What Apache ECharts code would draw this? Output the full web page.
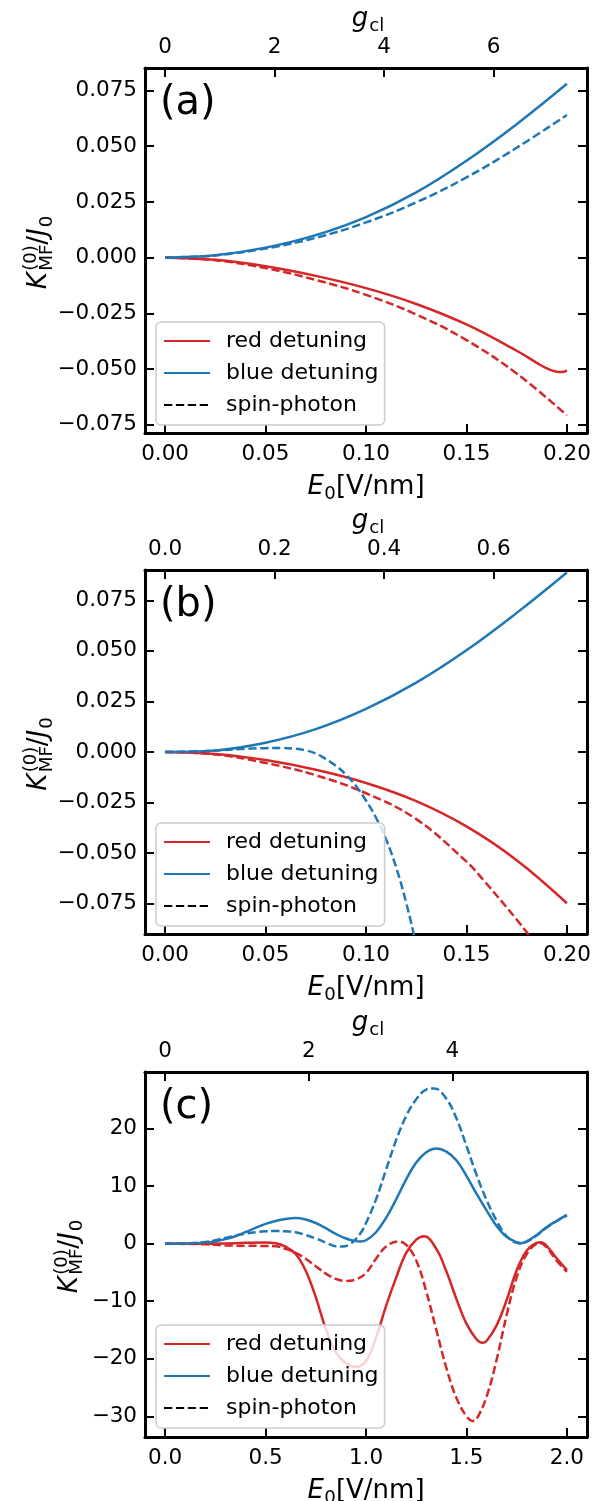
<!DOCTYPE html>
<html><head><meta charset="utf-8">
<script src="https://cdn.jsdelivr.net/npm/echarts@6/dist/echarts.min.js"></script>
<style>html,body{margin:0;padding:0;background:#fff}#c{width:596px;height:1501px}</style>
</head><body><div id="c"></div>
<script>
// ---------------- data ----------------
// panel (a)
const aE      = [0, 0.025, 0.05, 0.075, 0.1, 0.125, 0.15, 0.175, 0.2];
const aBlue   = [0, 0.0011, 0.0045, 0.0101, 0.0182, 0.0293, 0.0435, 0.0599, 0.078];
const aBlueSP = [0, 0.001, 0.0041, 0.0089, 0.0158, 0.0248, 0.036, 0.0493, 0.064];
const aRedE   = [0, 0.025, 0.05, 0.075, 0.1, 0.125, 0.15, 0.175, 0.185, 0.19, 0.195, 0.198, 0.2];
const aRed    = [0, -0.001, -0.0039, -0.0082, -0.0137, -0.0208, -0.030, -0.0418, -0.0472, -0.0497, -0.0512, -0.0513, -0.0506];
const aRedSP  = [0, -0.0012, -0.0047, -0.0100, -0.0167, -0.0255, -0.037, -0.052, -0.0708];
// panel (b)
const bE       = [0, 0.025, 0.05, 0.075, 0.1, 0.125, 0.15, 0.175, 0.2];
const bBlue    = [0, 0.0008, 0.0046, 0.0113, 0.0213, 0.0343, 0.0503, 0.0688, 0.0888];
const bRed     = [0, -0.001, -0.004, -0.0088, -0.0153, -0.0243, -0.0368, -0.0535, -0.0748];
const bRedSPE  = [0, 0.025, 0.05, 0.075, 0.1, 0.125, 0.15, 0.158, 0.175, 0.1807, 0.19];
const bRedSP   = [0, -0.0012, -0.0054, -0.0115, -0.0204, -0.0332, -0.0542, -0.0628, -0.0828, -0.0899, -0.1];
const bBlueSPE = [0, 0.02, 0.04, 0.05, 0.058, 0.065, 0.07, 0.075, 0.08, 0.085, 0.09, 0.095, 0.1, 0.105, 0.11, 0.115, 0.12, 0.125, 0.127];
const bBlueSP  = [0, 0.0005, 0.0016, 0.0019, 0.002, 0.0016, 0.0008, -0.0007, -0.0035, -0.0068, -0.0112, -0.0168, -0.024, -0.0325, -0.0432, -0.057, -0.0745, -0.0955, -0.105];
// panel (c)
const cBlueE   = [0, 0.1, 0.2, 0.25, 0.3, 0.35, 0.4, 0.45, 0.5, 0.55, 0.6, 0.65, 0.7, 0.75, 0.8, 0.85, 0.9, 0.95, 0.97, 1.0, 1.05, 1.1, 1.15, 1.2, 1.25, 1.3, 1.35, 1.4, 1.45, 1.5, 1.55, 1.6, 1.65, 1.7, 1.75, 1.775, 1.8, 1.85, 1.9, 1.95, 2.0];
const cBlue    = [0, 0.02, 0.15, 0.4, 0.8, 1.3, 2.0, 2.75, 3.45, 3.95, 4.3, 4.45, 4.2, 3.6, 2.7, 1.7, 0.9, 0.45, 0.4, 0.6, 2.0, 4.5, 7.7, 11.2, 14.1, 15.9, 16.55, 16.0, 14.5, 11.8, 8.7, 5.8, 3.1, 1.2, 0.25, 0.1, 0.4, 1.5, 2.9, 4.0, 5.0];
const cBlueSPE = [0, 0.1, 0.2, 0.25, 0.3, 0.35, 0.4, 0.45, 0.5, 0.55, 0.6, 0.65, 0.7, 0.75, 0.8, 0.85, 0.88, 0.92, 0.97, 1.0, 1.05, 1.1, 1.15, 1.2, 1.25, 1.3, 1.34, 1.4, 1.45, 1.5, 1.55, 1.6, 1.65, 1.7, 1.75, 1.775, 1.8, 1.85, 1.9, 1.95, 2.0];
const cBlueSP  = [0, 0.03, 0.3, 0.6, 1.0, 1.4, 1.75, 2.0, 2.15, 2.2, 2.15, 2.0, 1.5, 0.9, 0.2, -0.45, -0.5, -0.1, 1.7, 3.6, 7.7, 12.9, 18.0, 22.2, 25.1, 26.8, 27.0, 25.2, 21.8, 17.0, 12.0, 7.6, 4.0, 1.3, 0.15, 0.05, 0.35, 1.45, 2.8, 3.95, 4.9];
const cRedE    = [0, 0.2, 0.3, 0.4, 0.5, 0.55, 0.6, 0.65, 0.7, 0.75, 0.8, 0.85, 0.9, 0.95, 1.0, 1.05, 1.1, 1.15, 1.2, 1.25, 1.29, 1.35, 1.4, 1.45, 1.5, 1.55, 1.58, 1.6, 1.65, 1.7, 1.75, 1.8, 1.85, 1.87, 1.9, 1.95, 2.0];
const cRed     = [0, 0.0, 0.05, 0.15, 0.2, 0.1, -0.5, -1.8, -4.7, -9.3, -14.8, -18.9, -20.8, -21.4, -20.4, -16.3, -10.8, -5.9, -1.6, 0.7, 1.3, -0.9, -4.8, -9.6, -13.9, -16.6, -17.2, -16.9, -14.2, -9.8, -4.6, -1.2, 0.15, 0.25, -0.4, -2.6, -4.6];
const cRedSPE  = [0, 0.2, 0.3, 0.4, 0.5, 0.55, 0.6, 0.65, 0.7, 0.75, 0.8, 0.85, 0.9, 0.95, 1.0, 1.05, 1.1, 1.16, 1.2, 1.25, 1.3, 1.35, 1.4, 1.45, 1.5, 1.53, 1.55, 1.6, 1.65, 1.7, 1.75, 1.8, 1.85, 1.87, 1.9, 1.95, 2.0];
const cRedSP   = [0, -0.1, -0.3, -0.35, -0.4, -0.45, -0.9, -1.6, -2.6, -3.9, -5.2, -6.1, -6.5, -6.2, -5.1, -2.6, -0.5, 0.4, -0.2, -2.9, -8.3, -15.0, -21.6, -26.8, -30.0, -30.8, -30.5, -26.6, -20.2, -12.4, -5.8, -1.8, 0.0, 0.1, -0.7, -3.0, -4.9];
// ticks
const aYTicks = [-0.075, -0.05, -0.025, 0, 0.025, 0.05, 0.075];
const bYTicks = [-0.075, -0.05, -0.025, 0, 0.025, 0.05, 0.075];
const cYTicks = [-30, -20, -10, 0, 10, 20];
const abXTicks = [0, 0.05, 0.1, 0.15, 0.2];
const cXTicks = [0, 0.5, 1.0, 1.5, 2.0];
const aGTicks = [0, 2, 4, 6];
const bGTicks = [0, 0.2, 0.4, 0.6];
const cGTicks = [0, 2, 4];
const panelLabels = ['(a)', '(b)', '(c)'];
const legendNames = ['red detuning', 'blue detuning', 'spin-photon'];

// ---------------- layout ----------------
const RED = '#d62728', BLUE = '#1f77b4';
const FONT = 'DejaVu Sans';
const DASH = [8.3, 3.6];
const LW = 2.5;
const P = [
  {top: 68, h: 365, xmin: -0.01, xmax: 0.21, xt: abXTicks, xd: 2, ymin: -0.0787, ymax: 0.0851, yt: aYTicks, yd: 3, k: 36.7, gt: aGTicks, gd: 0, legTop: 322, ylx: 47.5},
  {top: 570, h: 364, xmin: -0.01, xmax: 0.21, xt: abXTicks, xd: 2, ymin: -0.09, ymax: 0.09, yt: bYTicks, yd: 3, k: 3.67, gt: bGTicks, gd: 1, legTop: 823, ylx: 47.5},
  {top: 1072, h: 365, xmin: -0.1, xmax: 2.1, xt: cXTicks, xd: 1, ymin: -33.6, ymax: 29.85, yt: cYTicks, yd: 0, k: 2.797, gt: cGTicks, gd: 0, legTop: 1325, ylx: 78}
];
const LEFT = 145, RIGHT = 9;
const fmt = d => v => (v < 0 ? '\u2212' : '') + Math.abs(v).toFixed(d);
const zip = (xs, ys) => xs.map((x, i) => [x, ys[i]]);

const grids = [], xAxes = [], yAxes = [], legends = [], graphics = [];
const axLine = {show: true, onZero: false, lineStyle: {color: '#000', width: 3}};
P.forEach((p, i) => {
  grids.push({left: LEFT, right: RIGHT, top: p.top, height: p.h, outerBoundsMode: 'none', containLabel: false});
  const tick = vals => ({show: true, inside: true, length: 9, customValues: vals, lineStyle: {color: '#000', width: 2}});
  const lab = (vals, d, margin) => ({show: true, customValues: vals, formatter: fmt(d), color: '#000', fontSize: 21.5, fontFamily: FONT, margin: margin});
  xAxes.push({type: 'value', gridIndex: i, position: 'bottom', min: p.xmin, max: p.xmax,
    axisLine: axLine, axisTick: tick(p.xt), axisLabel: lab(p.xt, p.xd, 10), splitLine: {show: false}});
  xAxes.push({type: 'value', gridIndex: i, position: 'top', min: p.xmin * p.k, max: p.xmax * p.k,
    axisLine: axLine, axisTick: tick(p.gt), axisLabel: lab(p.gt, p.gd, 10), splitLine: {show: false}});
  yAxes.push({type: 'value', gridIndex: i, position: 'left', min: p.ymin, max: p.ymax,
    axisLine: axLine, axisTick: tick(p.yt), axisLabel: lab(p.yt, p.yd, 8), splitLine: {show: false}});
  yAxes.push({type: 'value', gridIndex: i, position: 'right', min: p.ymin, max: p.ymax,
    axisLine: axLine, axisTick: tick(p.yt), axisLabel: {show: false}, splitLine: {show: false}});
  legends.push({
    left: 156, top: p.legTop, orient: 'vertical', data: legendNames, selectedMode: false,
    itemWidth: 46, itemHeight: 14, itemGap: 10,
    padding: [8, 6, 9, 7], backgroundColor: 'rgba(255,255,255,0.8)',
    borderColor: '#cccccc', borderWidth: 1.5, borderRadius: 5,
    itemStyle: {opacity: 0},
    textStyle: {fontSize: 22, fontFamily: FONT, color: '#000', padding: [0, 0, 0, 11]}
  });
});

const mk = (name, xi, xs, ys, color, dashed) => ({
  type: 'line', name: name, xAxisIndex: xi * 2, yAxisIndex: xi * 2, data: zip(xs, ys),
  symbol: 'none', showSymbol: false, smooth: 0.4, animation: false,
  lineStyle: {color: color, width: LW, type: dashed ? DASH : 'solid'}, itemStyle: {color: color}
});
const series = [
  mk('red detuning', 0, aRedE, aRed, RED, false),
  mk('blue detuning', 0, aE, aBlue, BLUE, false),
  mk('red sp a', 0, aE, aRedSP, RED, true),
  mk('blue sp a', 0, aE, aBlueSP, BLUE, true),
  mk('red detuning', 1, bE, bRed, RED, false),
  mk('blue detuning', 1, bE, bBlue, BLUE, false),
  mk('red sp b', 1, bRedSPE, bRedSP, RED, true),
  mk('blue sp b', 1, bBlueSPE, bBlueSP, BLUE, true),
  mk('red detuning', 2, cRedE, cRed, RED, false),
  mk('blue detuning', 2, cBlueE, cBlue, BLUE, false),
  mk('red sp c', 2, cRedSPE, cRedSP, RED, true),
  mk('blue sp c', 2, cBlueSPE, cBlueSP, BLUE, true),
  {type: 'line', name: 'spin-photon', xAxisIndex: 0, yAxisIndex: 0, data: [], symbol: 'none',
   lineStyle: {color: '#000', width: LW, type: DASH}, itemStyle: {color: '#000'}}
];

// ---------------- math-like labels ----------------
const ctx = document.createElement('canvas').getContext('2d');
function W(t, size, it) { ctx.font = (it ? 'italic ' : '') + size + 'px "' + FONT + '"'; return ctx.measureText(t).width; }
function txt(t, x, base, size, it) {
  return {type: 'text', x: x, y: base - 0.3 * size, silent: true,
    style: {text: t, font: (it ? 'italic ' : '') + size + 'px "' + FONT + '"', fill: '#000', align: 'left', verticalAlign: 'middle'}};
}
function build(items) {
  let x = 0; const out = [];
  items.forEach(it => {
    if (it.stack) {
      let mw = 0;
      it.stack.forEach(s => { out.push([s, x + (it.gap || 0)]); mw = Math.max(mw, W(s.t, s.size, s.it)); });
      x += mw + (it.gap || 0);
    } else {
      out.push([it, x + (it.gap || 0)]);
      x += W(it.t, it.size, it.it) + (it.gap || 0);
    }
  });
  return out.map(([s, px]) => txt(s.t, px - x / 2, s.dy || 0, s.size, s.it));
}
const BIG = 26, SM = 18.2;
const ylab = () => build([
  {t: 'K', size: BIG, it: true},
  {gap: 1.5, stack: [{t: '(0)', size: SM, dy: -10.5}, {t: 'MF', size: SM, dy: 5}]},
  {t: '/', size: BIG},
  {t: 'J', size: BIG, it: true},
  {t: '0', size: SM, dy: 5, gap: 1}
]);
const xlab = () => build([
  {t: 'E', size: BIG, it: true},
  {t: '0', size: SM, dy: 4.5, gap: 0.5},
  {t: '[V/nm]', size: BIG}
]);
const glab = () => build([
  {t: 'g', size: BIG, it: true},
  {t: 'cl', size: SM, dy: 4.5, gap: 1}
]);
const cx = LEFT + (596 - RIGHT - LEFT) / 2;
P.forEach((p, i) => {
  graphics.push({type: 'group', x: cx, y: p.top + p.h + 62, children: xlab()});
  graphics.push({type: 'group', x: cx + 2, y: p.top - 41, children: glab()});
  graphics.push({type: 'group', x: p.ylx, y: p.top + p.h / 2 + 2, rotation: Math.PI / 2, children: ylab()});
  graphics.push(txt(panelLabels[i], 160, p.top + 47.5, 40, false));
});

const chart = echarts.init(document.getElementById('c'), null, {renderer: 'canvas'});
chart.setOption({
  animation: false,
  backgroundColor: '#fff',
  grid: grids, xAxis: xAxes, yAxis: yAxes, legend: legends, series: series, graphic: graphics
});
</script></body></html>
